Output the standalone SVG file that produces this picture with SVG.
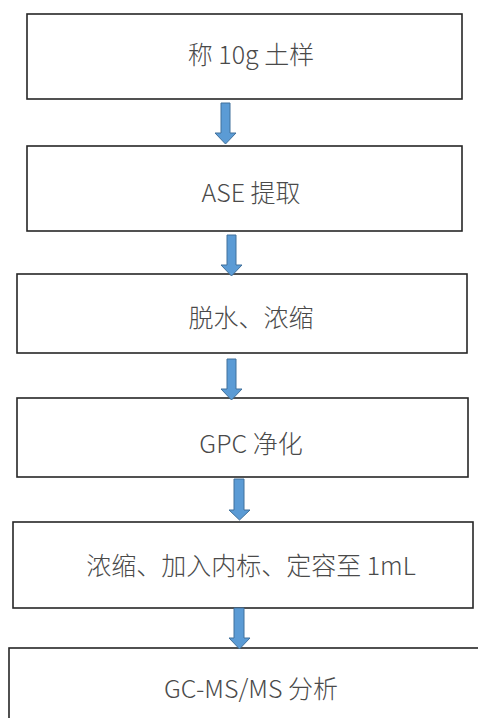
<svg xmlns="http://www.w3.org/2000/svg" width="478" height="718" viewBox="0 0 478 718">
<style>
.box{fill:#ffffff;stroke:#262626;stroke-width:1.6}
.lbl{font-family:"Noto Sans CJK SC","Noto Sans",sans-serif;font-size:25px;font-weight:300;fill:#4a4a4a;text-anchor:middle}
.arr{fill:#5b9bd5;stroke:#41719c;stroke-width:1}
</style>
<rect width="478" height="718" fill="#ffffff"/>
<g id="n1"><rect class="box" x="27" y="14" width="435" height="85"/><text class="lbl" x="251" y="64">称 10g 土样</text></g>
<g id="n2"><rect class="box" x="27" y="146" width="435" height="85"/><text class="lbl" x="251" y="202">ASE 提取</text></g>
<g id="n3"><rect class="box" x="17" y="274" width="450" height="79"/><text class="lbl" x="251" y="327">脱水、浓缩</text></g>
<g id="n4"><rect class="box" x="17" y="398" width="451" height="79"/><text class="lbl" x="251" y="453">GPC 净化</text></g>
<g id="n5"><rect class="box" x="13" y="522" width="460" height="86"/><text class="lbl" x="251" y="575">浓缩、加入内标、定容至 1mL</text></g>
<g id="n6"><rect class="box" x="9" y="648" width="480" height="90"/><text class="lbl" x="251" y="698">GC-MS/MS 分析</text></g>
<g id="connectors">
<path class="arr" d="M221,103 H230 V133 H236 L225.5,144 L215,133 H221 Z"/>
<path class="arr" d="M227,235 H236 V265 H242 L231.5,276 L221,265 H227 Z"/>
<path class="arr" d="M227,359 H236 V389 H242 L231.5,400 L221,389 H227 Z"/>
<path class="arr" d="M234,479 H244 V510 H250 L239.5,520 L229,510 H234 Z"/>
<path class="arr" d="M234,608 H244 V638 H250 L239.5,649 L229,638 H234 Z"/>
</g>
</svg>
